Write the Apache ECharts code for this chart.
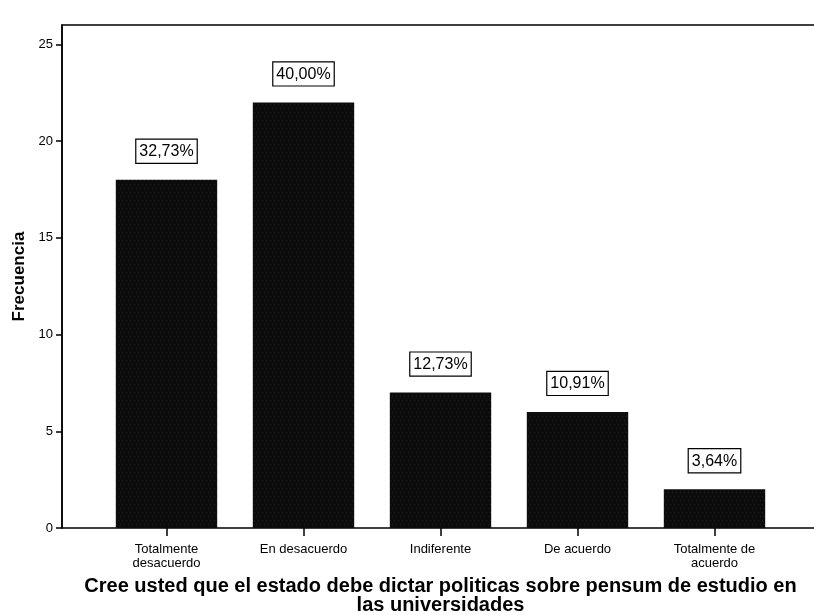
<!DOCTYPE html>
<html>
<head>
<meta charset="utf-8">
<script src="https://cdn.jsdelivr.net/npm/echarts@6/dist/echarts.min.js"></script>
<style>
  html, body { margin: 0; padding: 0; background: #fff; }
  #chart { width: 814px; height: 615px; }
</style>
</head>
<body>
<div id="chart"></div>
<script>
// Responses and their frequencies
const categories = ['Totalmente\ndesacuerdo', 'En desacuerdo', 'Indiferente', 'De acuerdo', 'Totalmente de\nacuerdo'];
const frequencies = [18, 22, 7, 6, 2];
const percentLabels = ['32,73%', '40,00%', '12,73%', '10,91%', '3,64%'];
const yTicks = { min: 0, max: 26, interval: 5 };

const FONT = 'Liberation Sans, Arial, sans-serif';
const chart = echarts.init(document.getElementById('chart'));

chart.setOption({
  backgroundColor: '#ffffff',
  animation: false,
  grid: [
    // frame with the value axis
    { left: 62, right: -8, top: 25, bottom: 87, outerBoundsMode: 'none', containLabel: false,
      show: true, borderColor: '#000', borderWidth: 1.5, backgroundColor: 'transparent' },
    // inner area holding the bars
    { left: 98, right: 31, top: 25, bottom: 87, outerBoundsMode: 'none', containLabel: false }
  ],
  xAxis: [
    { gridIndex: 0, type: 'value', min: 0, max: 1, show: false },
    {
      gridIndex: 1, type: 'category', data: categories,
      axisLine: { show: false },
      axisTick: { show: true, alignWithLabel: true, length: 8, lineStyle: { color: '#000', width: 1.5 } },
      axisLabel: { color: '#000', fontFamily: FONT, fontSize: 13, margin: 14, lineHeight: 14, interval: 0 },
      name: 'Cree usted que el estado debe dictar politicas sobre pensum de estudio en\nlas universidades',
      nameLocation: 'middle', nameGap: 49,
      nameTextStyle: { color: '#000', fontFamily: FONT, fontSize: 20, fontWeight: 'bold', lineHeight: 19 }
    }
  ],
  yAxis: [
    {
      gridIndex: 0, type: 'value', min: yTicks.min, max: yTicks.max, interval: yTicks.interval,
      axisLine: { show: true, lineStyle: { color: '#000', width: 1.5 } },
      axisTick: { show: true, length: 6, lineStyle: { color: '#000', width: 1.5 } },
      axisLabel: { color: '#000', fontFamily: FONT, fontSize: 13, margin: 9, showMaxLabel: false },
      splitLine: { show: false },
      name: 'Frecuencia', nameLocation: 'middle', nameGap: 34,
      nameTextStyle: { color: '#000', fontFamily: FONT, fontSize: 17, fontWeight: 'bold' }
    },
    { gridIndex: 1, type: 'value', min: yTicks.min, max: yTicks.max, interval: yTicks.interval, show: false }
  ],
  series: [{
    type: 'bar',
    xAxisIndex: 1, yAxisIndex: 1,
    data: frequencies,
    barWidth: '74%',
    itemStyle: {
      color: '#0c0c0c',
      decal: {
        symbol: 'rect', symbolSize: 0.35,
        color: 'rgba(255,255,255,0.45)',
        dashArrayX: [[1, 3], [0, 2, 1, 1]], dashArrayY: [1, 3],
        rotation: 0
      }
    },
    label: {
      show: true, position: 'top', distance: 17,
      formatter: p => percentLabels[p.dataIndex],
      color: '#000', fontFamily: FONT, fontSize: 16,
      borderColor: '#000', borderWidth: 1.2, padding: [4, 3, 3, 3], backgroundColor: '#fff'
    }
  }]
});
</script>
</body>
</html>
